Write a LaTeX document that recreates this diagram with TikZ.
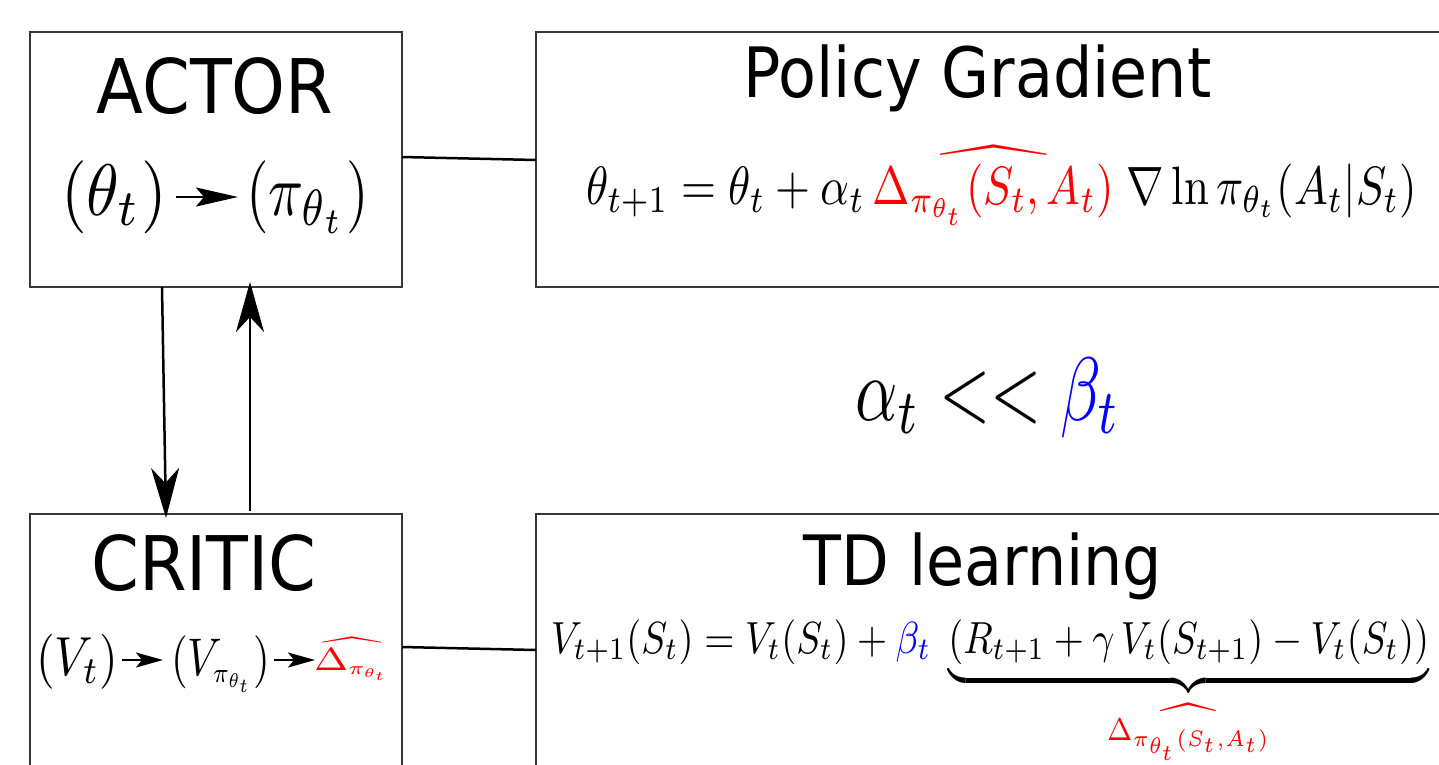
\documentclass[tikz,border=0pt]{standalone}
\usepackage[no-math]{fontspec}
\newfontfamily\dejavu{DejaVu Sans}
\usepackage{graphicx}
\usetikzlibrary{arrows.meta,calc}
\definecolor{boxgray}{RGB}{55,55,55}
\newcommand\widehatx[2]{\mbox{\ooalign{$#2$\cr\hidewidth\makebox[0pt]{\scalebox{#1}[1]{$\widehat{\phantom{#2}}$}}\hidewidth\cr}}}
\newcommand\smallsub[2]{\scalebox{#1}{$\scriptstyle #2$}}
\begin{document}
\begin{tikzpicture}[x=1pt,y=-1pt,
  box/.style={draw=boxgray,line width=2.2pt,inner sep=0pt,outer sep=0pt},
  conn/.style={line width=2.5pt},
  bigarrow/.style={line width=2.5pt,-{Stealth[length=50pt,width=28pt,inset=15pt]}},
  arrowA/.style={line width=2.6pt,-{Stealth[length=42pt,width=19pt,inset=8pt]}},
  arrowC/.style={line width=2.4pt,-{Stealth[length=27pt,width=15pt,inset=6pt]}},
  heading/.style={font={\dejavu\fontsize{#1}{#1}\selectfont},inner sep=0pt,anchor=base},
  formula/.style={inner sep=0pt,anchor=base west}]
\clip (0,0) rectangle (1439,764);
% boxes
\node[box,minimum width=372pt,minimum height=255pt] (actor) at (216,159.5) {};
\node[box,minimum width=924pt,minimum height=255pt] (pg) at (998,159.5) {};
\node[box,minimum width=372pt,minimum height=266pt] (critic) at (216,647) {};
\node[box,minimum width=924pt,minimum height=272pt] (td) at (998,650) {};
% connectors
\draw[conn] ([yshift=2.5pt]actor.east) -- ([yshift=-0.5pt]pg.west);
\draw[conn] (critic.east) -- (td.west);
\draw[bigarrow] ([xshift=-54pt]actor.south) -- ([xshift=-50pt,yshift=-4pt]critic.north);
\draw[bigarrow] ([xshift=34pt,yshift=3pt]critic.north) -- ([xshift=34pt,yshift=5pt]actor.south);
% headings
\node[heading=68.5] (actorT) at (215,113) {\scalebox{1}[1.1]{ACTOR}};
\node[heading=62] (pgT) at (977.5,97) {\scalebox{1}[1.12]{Policy Gradient}};
\node[heading=68.5] (criticT) at (204,590) {\scalebox{1}[1.1]{CRITIC}};
\node[heading=62] (tdT) at (983,585) {\scalebox{1}[1.12]{TD learning}};
% actor formula
\node[inner sep=0pt,anchor=base east] (theta) at (167,215) {\scalebox{6.6}[7.3]{$(\theta_t)$}};
\node[formula] (pi) at (246,215) {\scalebox{5.8}[7.3]{$(\pi_{\theta_t})$}};
\draw[arrowA] ($(theta.base east)+(9,-18)$) -- ($(pi.base west)+(-8,-18)$);
% critic formula
\node[formula] (vt) at (36,675) {\scalebox{4.8}[5.5]{$(V_t)$}};
\node[formula] (vpi) at (171,675) {\scalebox{4.3}[5.3]{$(V_{\smallsub{0.75}{\pi_{\theta_t}}})$}};
\node[formula] (dhat) at (314,670) {\scalebox{4.1}[3.2]{$\color{red}\widehat{\Delta_{\smallsub{0.8}{\pi_{\theta_t}}}}$}};
\draw[arrowC] ($(vt.base east)+(3,-15)$) -- ($(vpi.base west)+(-8,-15)$);
\draw[arrowC] ($(vpi.base east)+(4,-15)$) -- ($(dhat.base west)+(1,-10)$);
% policy gradient formula
\node[formula] (pgF) at (586,204) {\scalebox{4.5}[5.4]{$\theta_{t+1} = \theta_t + \alpha_t\,{\color{red}\widehatx{1.64}{\Delta_{\pi_{\theta_t}}(S_t,A_t)}}\;\nabla\ln\pi_{\theta_t}(A_t|S_t)$}};
% rates
\node[formula] (ab) at (855,420) {\scalebox{6.6}[9]{$\alpha_t << {\color{blue}\beta_t}$}};
% TD formula
\node[formula] (tdF) at (551,653) {\scalebox{3.86}[4.5]{$V_{t+1}(S_t) = V_t(S_t) + {\color{blue}\beta_t}\;\underbrace{(R_{t+1}+\gamma\,V_t(S_{t+1})-V_t(S_t))}_{\color{red}\widehat{\Delta_{\pi_{\theta_t}(S_t,A_t)}}}$}};
\end{tikzpicture}
\end{document}
